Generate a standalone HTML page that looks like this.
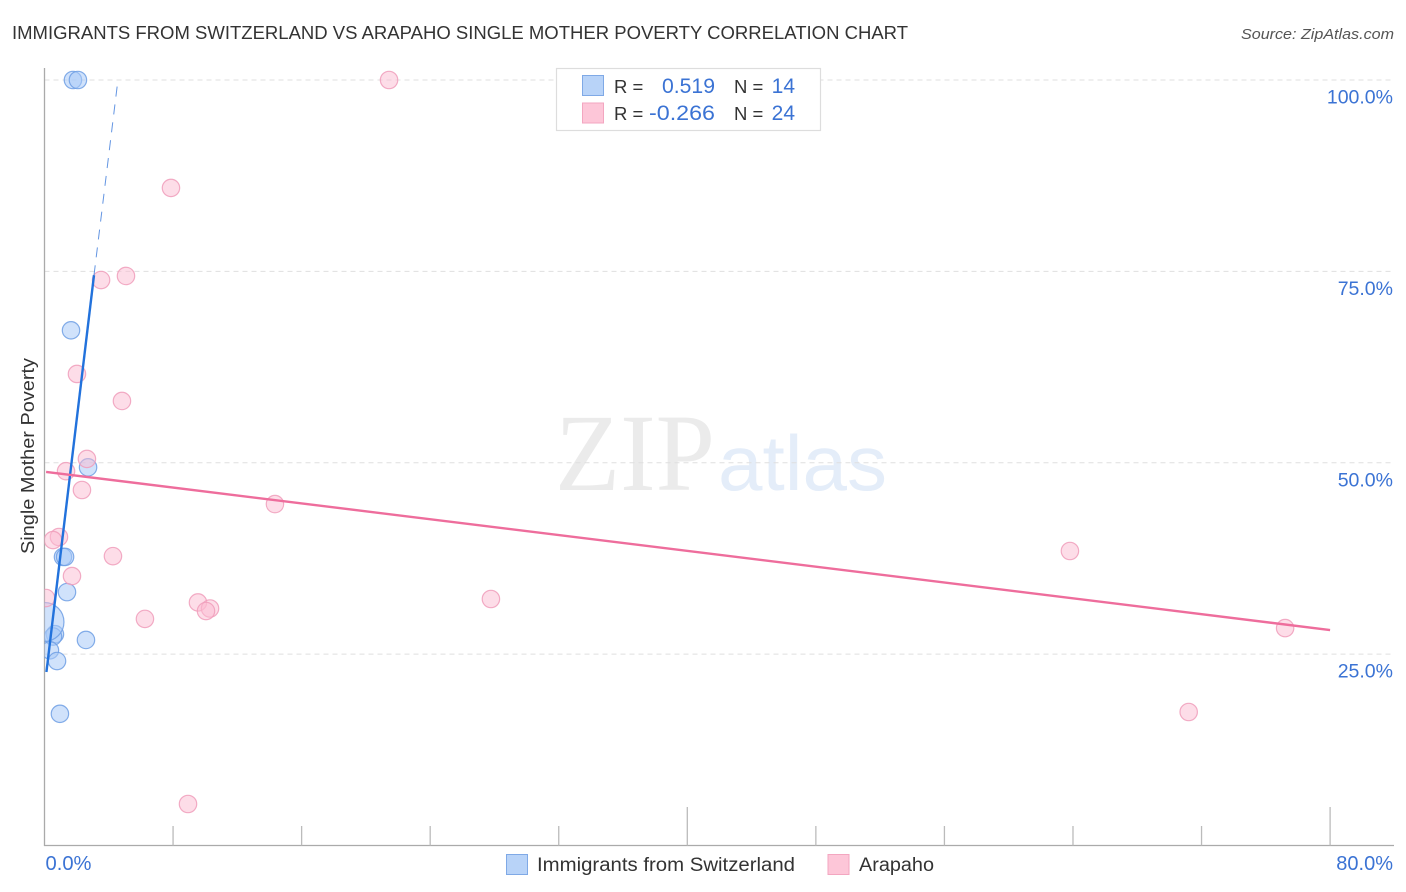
<!DOCTYPE html>
<html lang="en">
<head>
<meta charset="utf-8">
<title>Immigrants from Switzerland vs Arapaho Single Mother Poverty Correlation Chart</title>
<style>
html,body{margin:0;padding:0;background:#fff;width:1406px;height:892px;overflow:hidden}
svg{display:block;font-family:"Liberation Sans",sans-serif}
</style>
</head>
<body>
<svg id="chart" width="1406" height="892" viewBox="0 0 1406 892" xmlns="http://www.w3.org/2000/svg">
<defs><clipPath id="plot-clip"><rect x="44.5" y="60" width="1350" height="785"/></clipPath></defs>
<text x="12" y="39" font-size="18.5" fill="#333" textLength="896" lengthAdjust="spacingAndGlyphs">IMMIGRANTS FROM SWITZERLAND VS ARAPAHO SINGLE MOTHER POVERTY CORRELATION CHART</text>
<text x="1394" y="39" font-size="15" font-style="italic" fill="#555" text-anchor="end" textLength="153" lengthAdjust="spacingAndGlyphs">Source: ZipAtlas.com</text>
<g id="watermark">
<text x="555" y="490" font-family="'Liberation Serif',serif" font-size="110" fill="#ebebeb" textLength="160" lengthAdjust="spacingAndGlyphs">ZIP</text>
<text x="718" y="490" font-size="78" fill="#e4edf9" textLength="169" lengthAdjust="spacingAndGlyphs">atlas</text>
</g>
<g id="grid"></g>
<g id="axes"></g>
<g id="points" clip-path="url(#plot-clip)"></g>
<g id="trends"></g>
<g id="labels"></g>
<text transform="translate(34,456) rotate(-90)" font-size="18" fill="#333" text-anchor="middle" textLength="196" lengthAdjust="spacingAndGlyphs">Single Mother Poverty</text>
<g>
<rect x="556.5" y="68.5" width="264" height="62" fill="#fff" stroke="#ddd" stroke-width="1.2"/>
<rect x="582.5" y="75.5" width="21" height="20" fill="#b8d3f8" stroke="#7fa9e6"/>
<rect x="582.5" y="103" width="21" height="20" fill="#fdc6d8" stroke="#f3a6c0"/>
<text x="614" y="93" font-size="18.5" fill="#333">R =</text>
<text x="715" y="93" font-size="21" fill="#3b73d4" text-anchor="end" textLength="53" lengthAdjust="spacingAndGlyphs">0.519</text>
<text x="734" y="93" font-size="18.5" fill="#333">N =</text>
<text x="795" y="93" font-size="21" fill="#3b73d4" text-anchor="end">14</text>
<text x="614" y="120" font-size="18.5" fill="#333">R =</text>
<text x="715" y="120" font-size="21" fill="#3b73d4" text-anchor="end" textLength="66" lengthAdjust="spacingAndGlyphs">-0.266</text>
<text x="734" y="120" font-size="18.5" fill="#333">N =</text>
<text x="795" y="120" font-size="21" fill="#3b73d4" text-anchor="end">24</text>
</g>
<g>
<rect x="506.5" y="854.5" width="21" height="20" fill="#b8d3f8" stroke="#7fa9e6"/>
<text x="537" y="871" font-size="19" fill="#333" textLength="258" lengthAdjust="spacingAndGlyphs">Immigrants from Switzerland</text>
<rect x="828" y="854.5" width="21" height="20" fill="#fdc6d8" stroke="#f3a6c0"/>
<text x="859" y="871" font-size="19" fill="#333" textLength="75" lengthAdjust="spacingAndGlyphs">Arapaho</text>
</g>
</svg>
<script>
const yTickValues = [25, 50, 75, 100];
const yTickLabels = ["25.0%", "50.0%", "75.0%", "100.0%"];
const xTickValues = [0, 8, 16, 24, 32, 40, 48, 56, 64, 72, 80];
const xEndLabels = ["0.0%", "80.0%"];
const switzerlandX = [1.77, 2.08, 1.65, 2.71, 1.15, 1.28, 1.40, 2.58, 0.65, 0.53, 0.34, 0.78, 0.96, 0.0];
const switzerlandY = [100, 100, 67.3, 49.4, 37.7, 37.7, 33.1, 26.85, 27.6, 27.3, 25.5, 24.1, 17.2, 29.2];
const switzerlandCount = [1, 1, 1, 1, 1, 1, 1, 1, 1, 1, 1, 1, 1, 5];
const arapahoX = [21.44, 7.87, 5.07, 3.52, 2.02, 4.82, 2.64, 1.34, 2.33, 14.34, 0.90, 0.53, 4.26, 1.71, 0.09, 9.55, 10.3, 10.05, 6.25, 27.78, 63.81, 77.2, 71.2, 8.93];
const arapahoY = [100, 85.9, 74.4, 73.87, 61.6, 58.07, 50.5, 48.9, 46.44, 44.6, 40.3, 39.9, 37.8, 35.2, 32.33, 31.75, 30.96, 30.63, 29.6, 32.2, 38.47, 28.4, 17.44, 5.42];
const switzerlandTrendX = [0.12, 3.08];
const switzerlandTrendY = [22.66, 74.5];
const switzerlandExtensionX = [3.08, 4.57];
const switzerlandExtensionY = [74.5, 100];
const arapahoTrendX = [0.1, 80];
const arapahoTrendY = [48.8, 28.15];

const NS = "http://www.w3.org/2000/svg";
const xScale = v => 44.5 + v * 16.07;
const yScale = v => 845.5 - v * 7.655;
const gGrid = document.getElementById("grid");
const gAxes = document.getElementById("axes");
const gPoints = document.getElementById("points");
const gTrends = document.getElementById("trends");
const gLabels = document.getElementById("labels");

function make(parent, tag, props) {
  const el = document.createElementNS(NS, tag);
  for (const k in props) el.setAttribute(k, props[k]);
  parent.appendChild(el);
  return el;
}

yTickValues.forEach((v, i) => {
  const line = make(gGrid, "line", {x1: 44.5, x2: 1394, y1: yScale(v), y2: yScale(v), stroke: "#dfdfdf", "stroke-width": 1, "stroke-dasharray": "5 4"});
  
  
  const label = make(gLabels, "text", {x: 1393, y: yScale(v) + 23.5, "font-size": 19.5, fill: "#3b73d4", "text-anchor": "end"});
  label.textContent = yTickLabels[i];
  
  
});

const yAxis = make(gAxes, "line", {x1: 44.5, x2: 44.5, y1: 68, y2: 846, stroke: "#aaa", "stroke-width": 1.3});


const xAxis = make(gAxes, "line", {x1: 44, x2: 1394, y1: 845.5, y2: 845.5, stroke: "#aaa", "stroke-width": 1.3});



xTickValues.forEach((v, i) => {
  if (i === 0) return;
  const top = i === 5 || i === 10 ? 807 : 826;
  const tick = make(gAxes, "line", {x1: xScale(v), x2: xScale(v), y1: top, y2: 845.5, stroke: "#bbb", "stroke-width": 1.3});
  
  
});

const xLabelStart = make(gLabels, "text", {x: 45.5, y: 870, "font-size": 20, fill: "#3b73d4", textLength: 46, lengthAdjust: "spacingAndGlyphs"});
xLabelStart.textContent = xEndLabels[0];


const xLabelEnd = make(gLabels, "text", {x: 1393, y: 870, "font-size": 20, fill: "#3b73d4", "text-anchor": "end"});
xLabelEnd.textContent = xEndLabels[1];



switzerlandX.forEach((v, i) => {
  const dot = make(gPoints, "circle", {cx: xScale(v), cy: yScale(switzerlandY[i]), r: 8.7 * Math.sqrt(switzerlandCount[i]), fill: "#a9cbf8", "fill-opacity": 0.55, stroke: "#6f9fe4", "stroke-opacity": 0.85, "stroke-width": 1.2});
  
  
});

arapahoX.forEach((v, i) => {
  const dot = make(gPoints, "circle", {cx: xScale(v), cy: yScale(arapahoY[i]), r: 8.7, fill: "#fbbcd2", "fill-opacity": 0.5, stroke: "#f09dbb", "stroke-opacity": 0.85, "stroke-width": 1.2});
  
  
});

const blueDash = make(gTrends, "line", {x1: xScale(switzerlandExtensionX[0]), y1: yScale(switzerlandExtensionY[0]), x2: xScale(switzerlandExtensionX[1]), y2: yScale(switzerlandExtensionY[1]), stroke: "#2f72d8", "stroke-opacity": 0.75, "stroke-width": 1, "stroke-dasharray": "10 8"});


const blueTrend = make(gTrends, "line", {x1: xScale(switzerlandTrendX[0]), y1: yScale(switzerlandTrendY[0]), x2: xScale(switzerlandTrendX[1]), y2: yScale(switzerlandTrendY[1]), stroke: "#2272dc", "stroke-width": 2.4});


const pinkTrend = make(gTrends, "line", {x1: xScale(arapahoTrendX[0]), y1: yScale(arapahoTrendY[0]), x2: xScale(arapahoTrendX[1]), y2: yScale(arapahoTrendY[1]), stroke: "#ee6d9c", "stroke-width": 2.4});


</script>
</body>
</html>
